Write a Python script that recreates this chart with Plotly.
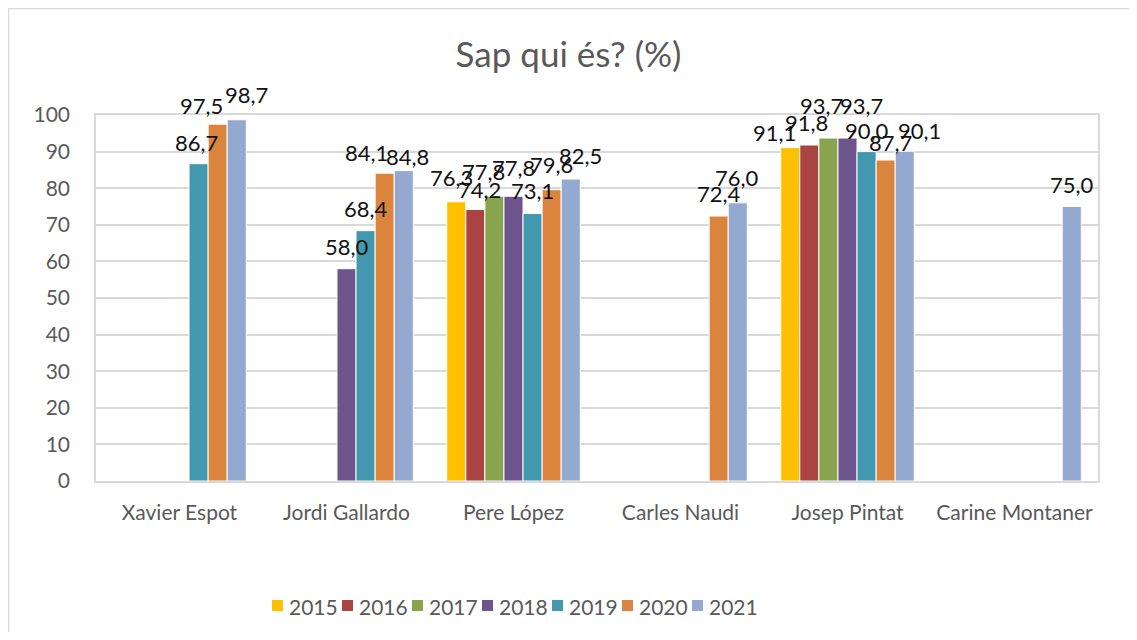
import plotly.graph_objects as go

categories = ["Xavier Espot", "Jordi Gallardo", "Pere López", "Carles Naudi", "Josep Pintat", "Carine Montaner"]
years = ["2015", "2016", "2017", "2018", "2019", "2020", "2021"]
v2015 = [None, None, 76.3, None, 91.1, None]
v2016 = [None, None, 74.2, None, 91.8, None]
v2017 = [None, None, 77.8, None, 93.7, None]
v2018 = [None, 58.0, 77.8, None, 93.7, None]
v2019 = [86.7, 68.4, 73.1, None, 90.0, None]
v2020 = [97.5, 84.1, 79.6, 72.4, 87.7, None]
v2021 = [98.7, 84.8, 82.5, 76.0, 90.1, 75.0]
series = [v2015, v2016, v2017, v2018, v2019, v2020, v2021]
colors = ["#FFC000", "#A94442", "#88A44C", "#6E548D", "#4198AF", "#DB843D", "#93A9CF"]

# label placement nudges (pixels), mimicking the reference's collision-avoiding label layout
label_dx = [
    [0, 0, -5, 0, -16, 0],
    [0, 0, 4, 0, -3, 0],
    [0, 0, -11, 0, -7, 0],
    [0, 0, 0, 0, 14, 0],
    [-2, 0, 0, 0, 0, 0],
    [-16, -18, 0, 0, 5, 0],
    [10, 4, 10, -1, 15, 0],
]
label_gap = [
    [22, 22, 24, 22, 15, 22],
    [22, 22, 20, 22, 23, 22],
    [22, 22, 25, 22, 33, 22],
    [22, 22, 29, 22, 33, 22],
    [21, 22, 23, 22, 21, 22],
    [19, 21, 25, 23, 18, 22],
    [25, 14, 24, 25, 21, 22],
]

FONT = "Lato, Open Sans, sans-serif"

W, H = 1121, 624
ML, MR, MT, MB = 88, 31, 107, 151
PW = W - ML - MR
PH = H - MT - MB
BARGAP = 0.2
NS = len(years)
SLOT = PW / len(categories) * (1 - BARGAP) / NS


def px2x(px):
    return (px - ML) / PW


def py2y(py):
    return (H - MB - py) / PH


fig = go.Figure()
annotations = []
for k, (y, vals, c) in enumerate(zip(years, series, colors)):
    fig.add_trace(go.Bar(
        name=y, x=categories, y=vals,
        marker=dict(color=c, line=dict(color="white", width=1)),
        showlegend=False,
    ))
    for j, (cat, v) in enumerate(zip(categories, vals)):
        if v is None:
            continue
        annotations.append(dict(
            text=f"{v:.1f}".replace(".", ","), x=cat, y=v, xref="x", yref="y",
            xanchor="center", yanchor="middle", showarrow=False,
            xshift=(k - (NS - 1) / 2) * SLOT + label_dx[k][j], yshift=label_gap[k][j],
            font=dict(size=22, color="#111111", family=FONT),
        ))

shapes = [dict(type="rect", xref="paper", yref="paper", x0=px2x(0.5), y0=-0.6, x1=1.2, y1=py2y(0.5),
               line=dict(color="#D9D9D9", width=1.5), layer="below")]
for i, (y, c) in enumerate(zip(years, colors)):
    sx = 264 + 70 * i
    shapes.append(dict(type="rect", xref="paper", yref="paper",
                       x0=px2x(sx), x1=px2x(sx + 11), y0=py2y(603), y1=py2y(592),
                       fillcolor=c, line=dict(width=0)))
    annotations.append(dict(text=y, xref="paper", yref="paper", x=px2x(sx + 15), y=py2y(598),
                            xanchor="left", yanchor="middle", showarrow=False,
                            font=dict(size=21, color="#595959", family=FONT)))

fig.update_layout(
    width=W, height=H,
    margin=dict(l=ML, r=MR, t=MT, b=MB),
    paper_bgcolor="white", plot_bgcolor="white",
    barmode="group", bargap=BARGAP, bargroupgap=0,
    font=dict(family=FONT, size=21, color="#595959"),
    title=dict(text="Sap qui és? (%)", x=0.5, xanchor="center", y=1 - 47 / H, yanchor="middle",
               font=dict(size=35, color="#595959", family=FONT)),
    showlegend=False,
    shapes=shapes,
    annotations=annotations,
)
fig.update_xaxes(showline=True, mirror=True, linecolor="#D9D9D9", linewidth=1.5,
                 tickfont=dict(size=21, color="#595959"), ticks="", ticklabelstandoff=12)
fig.update_yaxes(range=[0, 100], dtick=10, showgrid=True, gridcolor="#D9D9D9", gridwidth=1.5,
                 showline=True, mirror=True, linecolor="#D9D9D9", linewidth=1.5, zeroline=False,
                 tickfont=dict(size=21, color="#595959"), ticks="", ticklabelstandoff=20)

fig.write_html("out.html")
